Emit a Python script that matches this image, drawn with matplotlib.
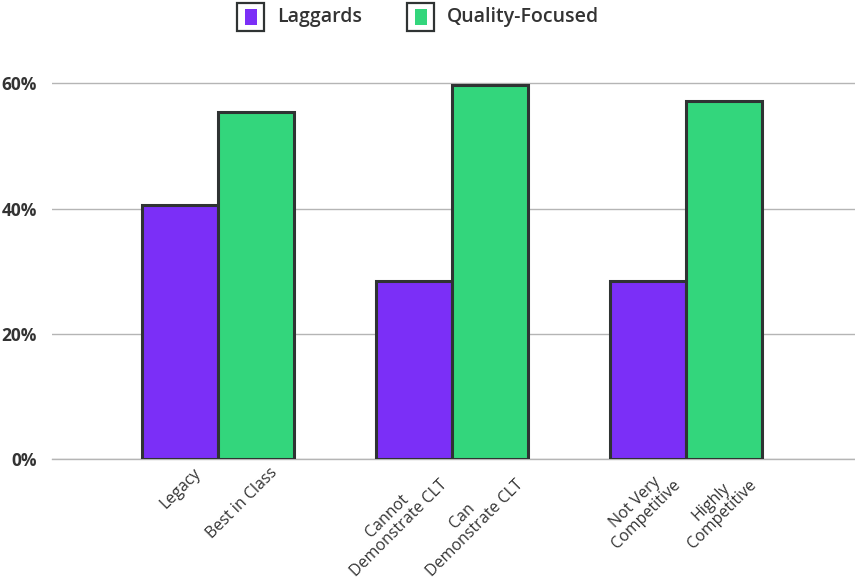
import matplotlib.pyplot as plt
from matplotlib.patches import Rectangle
import matplotlib.transforms as mtransforms
import numpy as np

groups = ["Legacy vs Best", "CLT", "Competitive"]
laggards = [40.6, 28.5, 28.5]
quality_focused = [55.5, 59.8, 57.2]
laggard_labels = ["Legacy", "Cannot\nDemonstrate CLT", "Not Very\nCompetitive"]
quality_labels = ["Best in Class", "Can\nDemonstrate CLT", "Highly\nCompetitive"]
series_names = ["Laggards", "Quality-Focused"]
yticks = [0, 20, 40, 60]

purple = "#7B2FF7"
green = "#33D67C"
edge = "#2F3333"
text_col = "#333333"

plt.rcParams["font.family"] = ["Open Sans", "DejaVu Sans"]

fig = plt.figure(figsize=(8.55, 5.83), dpi=100)
ax = fig.add_axes([0.0608, 0.2122, 0.9392, 0.6664])

x = np.arange(len(groups))
w = 0.325
ax.bar(x - w / 2, laggards, width=w, color=purple, edgecolor=edge, linewidth=2.2, zorder=3)
ax.bar(x + w / 2, quality_focused, width=w, color=green, edgecolor=edge, linewidth=2.2, zorder=3)

ax.set_xlim(-0.709, 2.722)
ax.set_ylim(0, 62)
ax.set_yticks(yticks)
ax.set_yticklabels([f"{v}%" for v in yticks], fontsize=12.5, fontweight="bold", color=text_col)
ax.yaxis.grid(True, color="#B5B5B5", linewidth=1.0, zorder=0)
ax.axhline(0, color="#B5B5B5", linewidth=1.0, zorder=1, clip_on=False)
ax.tick_params(axis="y", length=0, pad=11)
for s in ax.spines.values():
    s.set_visible(False)

# one rotated label under each bar
positions = np.concatenate([x - w / 2, x + w / 2])
labels = laggard_labels + quality_labels
ax.set_xticks(positions)
ax.set_xticklabels(labels, rotation=45, ha="right", rotation_mode="anchor",
                   fontsize=11.5, color=text_col, multialignment="center",
                   linespacing=1.05)
ax.tick_params(axis="x", length=0, pad=4)
shift = mtransforms.ScaledTranslation(0.13, 0, fig.dpi_scale_trans)
for lbl in ax.get_xticklabels():
    lbl.set_transform(lbl.get_transform() + shift)

# legend drawn as boxed swatches at the top
def fx(px):
    return px / 855

def fy(py):
    return 1 - py / 583

for bx, tx, col, name in [(237, 277, purple, series_names[0]), (407, 447, green, series_names[1])]:
    fig.add_artist(Rectangle((fx(bx), fy(31)), fx(27), 28 / 583, transform=fig.transFigure,
                             facecolor="white", edgecolor=edge, linewidth=1.6))
    fig.add_artist(Rectangle((fx(bx + 7.5), fy(24.5)), fx(12), 15 / 583, transform=fig.transFigure,
                             facecolor=col, edgecolor="none"))
    fig.text(fx(tx), fy(17), name, fontsize=14, fontweight="semibold", color=text_col,
             ha="left", va="center")

fig.savefig("out.png", dpi=100)
